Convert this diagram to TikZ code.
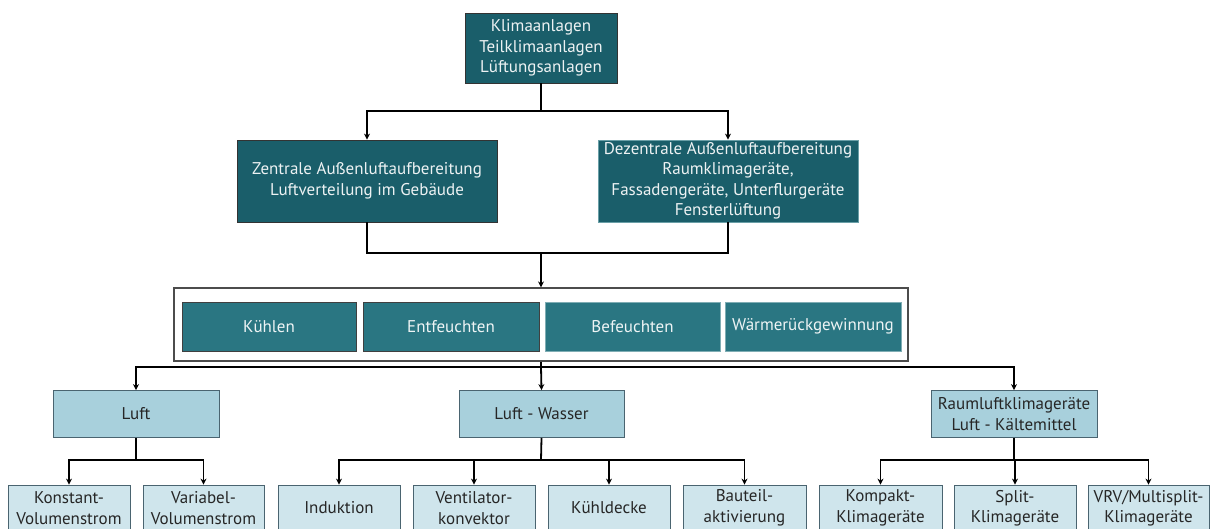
\documentclass[tikz,border=0pt]{standalone}
\usepackage{fontspec}
\setmainfont{PT Sans}
\usetikzlibrary{arrows.meta}
\definecolor{darkteal}{HTML}{1A5E6A}
\definecolor{midteal}{HTML}{2A7682}
\definecolor{lightblue}{HTML}{A8D0DC}
\definecolor{paleblue}{HTML}{CFE5EC}
\definecolor{edgegray}{HTML}{4A6470}
\begin{document}
\begin{tikzpicture}[x=1pt,y=-1pt,
  every node/.style={font=\fontsize{17}{20.5}\selectfont, align=center, inner sep=0pt},
  darkbox/.style={draw=black!80, fill=darkteal, text=white!92!darkteal, line width=0.8pt, minimum height=#1},
  darkbox/.default=70,
  midbox/.style={draw=black!75, fill=midteal, text=white!92!midteal, line width=0.8pt, minimum height=49, minimum width=#1},
  lightbox/.style={draw=edgegray, fill=lightblue, text=black!85, line width=0.8pt, minimum height=47, minimum width=#1},
  palebox/.style={draw=edgegray, fill=paleblue, text=black!85, line width=0.8pt, minimum height=46, minimum width=#1},
  conn/.style={draw=black, line width=1.8pt},
  arr/.style={conn, -{Stealth[length=6pt,width=6pt]}}
]
\clip (0,0) rectangle (1210,529);
\fill[white] (0,0) rectangle (1210,529);

% level 0
\node[darkbox=70, minimum width=152] (top) at (541,48) {Klimaanlagen\\Teilklimaanlagen\\Lüftungsanlagen};
% level 1
\node[darkbox=82, minimum width=260] (zen) at (367,181) {Zentrale Außenluftaufbereitung\\Luftverteilung im Gebäude};
\node[darkbox=82, minimum width=260, draw=midteal!70!white] (dez) at (728,181) {Dezentrale Außenluftaufbereitung\\Raumklimageräte,\\Fassadengeräte, Unterflurgeräte\\Fensterlüftung};
% group
\node[draw=black!70, line width=1.2pt, fill=white, minimum width=734, minimum height=73] (grp) at (541,324.5) {};
\node[midbox=174] (k1) at (269,326.5) {Kühlen};
\node[midbox=176] (k2) at (451,326.5) {Entfeuchten};
\node[midbox=175, draw=midteal!60!white] (k3) at (632.5,326.5) {Befeuchten};
\node[midbox=176, draw=midteal!60!white] (k4) at (813,326.5) {Wärmerückgewinnung};
% level 3
\node[lightbox=166] (luft) at (136,414) {Luft};
\node[lightbox=165] (lw) at (541.5,414) {Luft - Wasser};
\node[lightbox=166] (rl) at (1014,414) {Raumluftklimageräte\\Luft - Kältemittel};
% level 4
\node[palebox=122] (b1) at (69,508) {Konstant-\\Volumenstrom};
\node[palebox=121] (b2) at (203.5,508) {Variabel-\\Volumenstrom};
\node[palebox=122] (b3) at (339,508) {Induktion};
\node[palebox=122] (b4) at (474,508) {Ventilator-\\konvektor};
\node[palebox=122] (b5) at (609,508) {Kühldecke};
\node[palebox=123] (b6) at (744.5,508) {Bauteil-\\aktivierung};
\node[palebox=123] (b7) at (880.5,508) {Kompakt-\\Klimageräte};
\node[palebox=122] (b8) at (1015,508) {Split-\\Klimageräte};
\node[palebox=121] (b9) at (1148.5,508) {VRV/Multisplit-\\Klimageräte};

% junctions
\coordinate (j1) at (541,111);
\coordinate (j2) at (541,253);
\coordinate (j3) at (541,367);
\coordinate (j4) at (136,460);
\coordinate (j5) at (541,460);
\coordinate (j6) at (1014,460);

\draw[conn] (top.south) -- (j1);
\draw[arr] (j1) -| (zen.north);
\draw[arr] (j1) -| (dez.north);
\draw[conn] (zen.south) |- (j2);
\draw[conn] (dez.south) |- (j2);
\draw[arr] (j2) -- (grp.north);
\draw[conn] (grp.south) -- (j3);
\draw[arr] (j3) -| (luft.north);
\draw[arr] (j3) -- (lw.north);
\draw[arr] (j3) -| (rl.north);
\draw[conn] (luft.south) -- (j4);
\draw[arr] (j4) -| (b1.north);
\draw[arr] (j4) -| (b2.north);
\draw[conn] (lw.south) -- (j5);
\draw[arr] (j5) -| (b3.north);
\draw[arr] (j5) -| (b4.north);
\draw[arr] (j5) -| (b5.north);
\draw[arr] (j5) -| (b6.north);
\draw[conn] (rl.south) -- (j6);
\draw[arr] (j6) -| (b7.north);
\draw[arr] (j6) -| (b8.north);
\draw[arr] (j6) -| (b9.north);
\end{tikzpicture}
\end{document}
